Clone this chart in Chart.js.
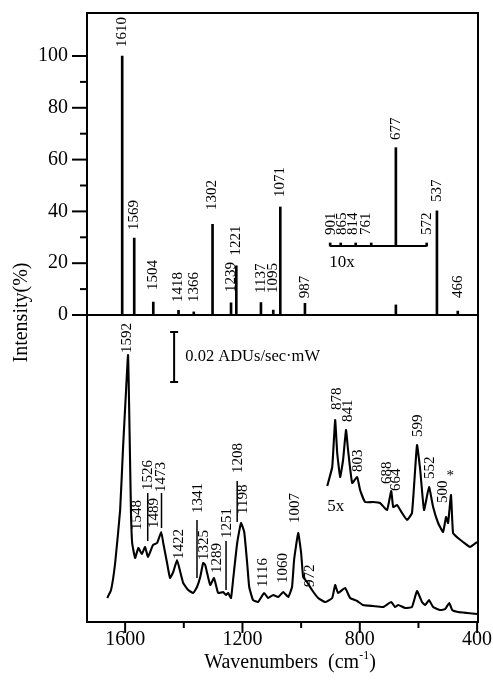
<!DOCTYPE html>
<html>
<head>
<meta charset="utf-8">
<script src="https://cdn.jsdelivr.net/npm/chart.js@4.4.1/dist/chart.umd.min.js"></script>
<style>
  html, body { margin: 0; padding: 0; background: #fff; }
  #wrap { width: 493px; height: 682px; }
</style>
</head>
<body>
<div id="wrap"><canvas id="ramanChart" width="493" height="682"></canvas></div>
<script>
// calculated stick spectrum, intensity in %
const stickWn = [1610, 1569, 1504, 1418, 1366, 1302, 1239, 1221, 1137, 1095, 1071, 987, 677, 537, 466];
const stickInt = [100, 29.7, 5, 1.8, 1.2, 35, 4.7, 19, 4.8, 1.9, 41.7, 4.5, 3.9, 40.2, 1.5];
const stickLabelY = [103.5, 32.8, 9.7, 5, 5, 40.5, 8.9, 23, 8.5, 8.5, 45.6, 6.5, null, 43.6, 6.6];

// 10x magnified part of the stick spectrum
const insetWn = [901, 865, 814, 761, 677, 572];
const insetInt = [0.12, 0.12, 0.12, 0.12, 3.8, 0.12];
const insetBase = 26.6;
const insetGain = 10;
const insetLabelWn = [899, 861, 822, 778, 676, 570];
const insetLabelY = [30.9, 30.9, 30.9, 30.9, 67.6, 30.9];

// measured spectrum (ADUs/sec.mW)
const lowWn = [1661, 1648, 1634, 1617, 1607, 1598, 1590, 1585, 1580, 1576, 1566, 1555, 1543, 1532, 1522,
  1505, 1491, 1477, 1470, 1457, 1447, 1436, 1423, 1412, 1402, 1385, 1368, 1355, 1344, 1334, 1327, 1310,
  1297, 1283, 1266, 1256, 1249, 1239, 1232, 1218, 1205, 1194, 1184, 1177, 1164, 1147, 1126, 1113, 1095,
  1078, 1061, 1044, 1031, 1024, 1010, 1000, 993, 980, 963, 942, 918, 894, 884, 874, 850, 833, 809, 789,
  755, 720, 693, 680, 669, 645, 622, 605, 588, 577, 564, 550, 526, 509, 495, 485, 465, 434, 400];
const lowVal = [0.0096, 0.0128, 0.0236, 0.0448, 0.0700, 0.0901, 0.1068, 0.0768, 0.0436, 0.0316, 0.0256, 0.0296,
  0.0272, 0.0300, 0.0260, 0.0308, 0.0316, 0.0360, 0.0316, 0.0236, 0.0176, 0.0200, 0.0248, 0.0200, 0.0156,
  0.0128, 0.0116, 0.0140, 0.0180, 0.0236, 0.0228, 0.0148, 0.0176, 0.0116, 0.0120, 0.0108, 0.0116, 0.0096,
  0.0168, 0.0316, 0.0396, 0.0360, 0.0236, 0.0140, 0.0088, 0.0080, 0.0116, 0.0096, 0.0108, 0.0100, 0.0120,
  0.0100, 0.0140, 0.0248, 0.0356, 0.0276, 0.0180, 0.0160, 0.0128, 0.0096, 0.0080, 0.0096, 0.0148, 0.0116,
  0.0136, 0.0096, 0.0084, 0.0068, 0.0064, 0.0060, 0.0080, 0.0060, 0.0068, 0.0056, 0.0060, 0.0124, 0.0080,
  0.0068, 0.0088, 0.0060, 0.0048, 0.0052, 0.0076, 0.0048, 0.0040, 0.0036, 0.0032];

// 5x trace, as plotted (offset)
const upWn = [911, 894, 884, 877, 867, 857, 847, 840, 826, 809, 799, 782, 755, 731, 707, 693, 686, 673, 656,
  639, 622, 605, 594, 581, 564, 550, 533, 516, 506, 499, 489, 482, 465, 448, 424, 400];
const upVal = [0.0544, 0.0620, 0.0808, 0.0676, 0.0580, 0.0648, 0.0768, 0.0688, 0.0556, 0.0580, 0.0528, 0.0480,
  0.0480, 0.0476, 0.0448, 0.0524, 0.0460, 0.0468, 0.0436, 0.0408, 0.0436, 0.0708, 0.0608, 0.0448, 0.0540,
  0.0460, 0.0396, 0.0360, 0.0420, 0.0396, 0.0508, 0.0356, 0.0336, 0.0320, 0.0300, 0.0320];

const lowLabels = ['1592', '1548', '1526', '1489', '1473', '1422', '1341', '1325', '1289', '1251', '1208', '1198', '1116', '1060', '1007', '972'];
const lowLabelWn = [1593, 1559, 1522, 1501, 1476, 1416, 1353, 1331, 1288, 1254, 1215, 1198, 1130, 1061, 1020, 969];
const lowLabelVal = [0.1076, 0.0368, 0.0528, 0.0376, 0.052, 0.0252, 0.0436, 0.0248, 0.0196, 0.0336, 0.0596, 0.0432, 0.014, 0.0156, 0.0396, 0.014];

const upLabels = ['878', '841', '803', '688', '664', '599', '552', '500'];
const upLabelWn = [876, 840, 806, 707, 676, 603, 560, 516];
const upLabelVal = [0.0848, 0.080, 0.060, 0.0552, 0.0524, 0.074, 0.0572, 0.0476];

const leaderWn = [1523, 1476, 1355, 1256, 1218];
const leaderTop = [0.0516, 0.0516, 0.0408, 0.0324, 0.0564];
const leaderBottom = [0.0324, 0.0376, 0.0176, 0.0128, 0.04];

const yTicks = [0, 20, 40, 60, 80, 100];
const xTicks = [1600, 1200, 800, 400];
const xMinor = [1400, 1000, 600];

const serif = '"Liberation Serif", "Times New Roman", serif';

function line(ctx, x1, y1, x2, y2) {
  ctx.beginPath();
  ctx.moveTo(x1, y1);
  ctx.lineTo(x2, y2);
  ctx.stroke();
}

function upText(ctx, text, x, y) {
  ctx.save();
  ctx.translate(x, y);
  ctx.rotate(-Math.PI / 2);
  ctx.textAlign = 'left';
  ctx.textBaseline = 'middle';
  ctx.fillText(text, 0, 0);
  ctx.restore();
}

const decorations = {
  id: 'decorations',
  afterDraw(chart) {
    const { ctx, chartArea: a, scales } = chart;
    const sx = scales.x, yt = scales.y, yb = scales.yb;
    ctx.save();
    ctx.strokeStyle = '#000';
    ctx.fillStyle = '#000';
    ctx.lineWidth = 2;

    ctx.strokeRect(a.left, a.top, a.right - a.left, a.bottom - a.top);
    const y0 = yt.getPixelForValue(0);
    line(ctx, a.left, y0, a.right, y0);

    for (let v = 0; v <= 100; v += 10) {
      const py = yt.getPixelForValue(v);
      line(ctx, a.left - (v % 20 === 0 ? 15 : 7), py, a.left, py);
    }
    xTicks.forEach(v => { const px = sx.getPixelForValue(v); line(ctx, px, a.bottom, px, a.bottom + 11); });
    xMinor.forEach(v => { const px = sx.getPixelForValue(v); line(ctx, px, a.bottom, px, a.bottom + 6); });

    // inset baseline (10x)
    line(ctx, sx.getPixelForValue(insetWn[0]), yt.getPixelForValue(insetBase),
      sx.getPixelForValue(insetWn[insetWn.length - 1]), yt.getPixelForValue(insetBase));

    // leader lines
    ctx.lineWidth = 1.5;
    leaderWn.forEach((w, i) => {
      const px = sx.getPixelForValue(w);
      line(ctx, px, yb.getPixelForValue(leaderTop[i]), px, yb.getPixelForValue(leaderBottom[i]));
    });

    // peak labels
    ctx.font = '15px ' + serif;
    stickWn.forEach((w, i) => {
      if (stickLabelY[i] == null) return;
      upText(ctx, String(w), sx.getPixelForValue(w), yt.getPixelForValue(stickLabelY[i]));
    });
    insetWn.forEach((w, i) => {
      upText(ctx, String(w), sx.getPixelForValue(insetLabelWn[i]), yt.getPixelForValue(insetLabelY[i]));
    });
    lowLabels.forEach((t, i) => {
      upText(ctx, t, sx.getPixelForValue(lowLabelWn[i]), yb.getPixelForValue(lowLabelVal[i]));
    });
    upLabels.forEach((t, i) => {
      upText(ctx, t, sx.getPixelForValue(upLabelWn[i]), yb.getPixelForValue(upLabelVal[i]));
    });
    ctx.textAlign = 'center';
    ctx.textBaseline = 'middle';
    ctx.fillText('*', sx.getPixelForValue(492), yb.getPixelForValue(0.0584));

    // gain marks
    ctx.font = '17px ' + serif;
    ctx.textAlign = 'left';
    ctx.fillText('10x', sx.getPixelForValue(904), yt.getPixelForValue(20.3));
    ctx.fillText('5x', sx.getPixelForValue(911), yb.getPixelForValue(0.046));

    // intensity scale bar
    const bx = sx.getPixelForValue(1433);
    const bt = yb.getPixelForValue(0.116), bb = yb.getPixelForValue(0.116 - 0.02);
    ctx.lineWidth = 2;
    line(ctx, bx, bt, bx, bb);
    line(ctx, bx - 4, bt, bx + 4, bt);
    line(ctx, bx - 4, bb, bx + 4, bb);
    ctx.font = '16.5px ' + serif;
    ctx.fillText('0.02 ADUs/sec\u00b7mW', sx.getPixelForValue(1395), yb.getPixelForValue(0.106));

    // axis titles
    ctx.font = '20px ' + serif;
    ctx.save();
    ctx.translate(22, (a.top + a.bottom) / 2 - 5);
    ctx.rotate(-Math.PI / 2);
    ctx.textAlign = 'center';
    ctx.fillText('Intensity(%)', 0, 0);
    ctx.restore();

    const main = 'Wavenumbers  (cm';
    ctx.font = '20px ' + serif;
    const w1 = ctx.measureText(main).width;
    ctx.font = '12px ' + serif;
    const w2 = ctx.measureText('-1').width;
    ctx.font = '20px ' + serif;
    const w3 = ctx.measureText(')').width;
    let tx = 290 - (w1 + w2 + w3) / 2;
    const ty = 668;
    ctx.textAlign = 'left';
    ctx.textBaseline = 'alphabetic';
    ctx.fillText(main, tx, ty);
    tx += w1;
    ctx.font = '12px ' + serif;
    ctx.fillText('-1', tx, ty - 9);
    tx += w2;
    ctx.font = '20px ' + serif;
    ctx.fillText(')', tx, ty);
    ctx.restore();
  }
};

function noPad(scale) {
  scale.paddingLeft = 0;
  scale.paddingRight = 0;
  scale.paddingTop = 0;
  scale.paddingBottom = 0;
}

new Chart(document.getElementById('ramanChart'), {
  type: 'line',
  data: {
    datasets: [
      {
        type: 'bar',
        data: stickWn.map((w, i) => ({ x: w, y: stickInt[i] })),
        yAxisID: 'y',
        backgroundColor: '#000',
        barThickness: 2,
        grouped: false
      },
      {
        type: 'bar',
        data: insetWn.map((w, i) => ({ x: w, y: [insetBase, insetBase + insetGain * insetInt[i]] })),
        yAxisID: 'y',
        backgroundColor: '#000',
        barThickness: 2,
        grouped: false
      },
      {
        data: lowWn.map((w, i) => ({ x: w, y: lowVal[i] })),
        yAxisID: 'yb',
        borderColor: '#000',
        borderWidth: 2.1,
        pointRadius: 0,
        tension: 0.12
      },
      {
        data: upWn.map((w, i) => ({ x: w, y: upVal[i] })),
        yAxisID: 'yb',
        borderColor: '#000',
        borderWidth: 2.1,
        pointRadius: 0,
        tension: 0.12
      }
    ]
  },
  options: {
    responsive: false,
    animation: false,
    events: [],
    layout: { padding: { left: 0, top: 13, right: 15, bottom: 0 } },
    plugins: { legend: { display: false }, tooltip: { enabled: false } },
    scales: {
      x: {
        type: 'linear',
        reverse: true,
        min: 397,
        max: 1730,
        offset: false,
        grid: { display: false, drawTicks: false },
        border: { display: false },
        afterBuildTicks: s => { s.ticks = xTicks.map(v => ({ value: v })); },
        afterFit: s => { s.height = 60; noPad(s); },
        ticks: {
          autoSkip: false,
          maxRotation: 0,
          padding: 6,
          color: '#000',
          font: { family: serif, size: 20 },
          callback: v => String(v)
        }
      },
      y: {
        type: 'linear',
        position: 'left',
        stack: 'panels',
        stackWeight: 302,
        weight: 1,
        min: 0,
        max: 116.6,
        grid: { display: false, drawTicks: false },
        border: { display: false },
        afterBuildTicks: s => { s.ticks = yTicks.map(v => ({ value: v })); },
        afterFit: s => { s.width = 87; noPad(s); },
        ticks: {
          padding: 19,
          color: '#000',
          font: { family: serif, size: 20 },
          callback: v => String(v)
        }
      },
      yb: {
        type: 'linear',
        position: 'left',
        stack: 'panels',
        stackWeight: 307,
        weight: 0,
        min: 0,
        max: 0.1228,
        grid: { display: false, drawTicks: false },
        border: { display: false },
        ticks: { display: false },
        afterFit: s => { s.width = 87; noPad(s); }
      }
    }
  },
  plugins: [decorations]
});
</script>
</body>
</html>
